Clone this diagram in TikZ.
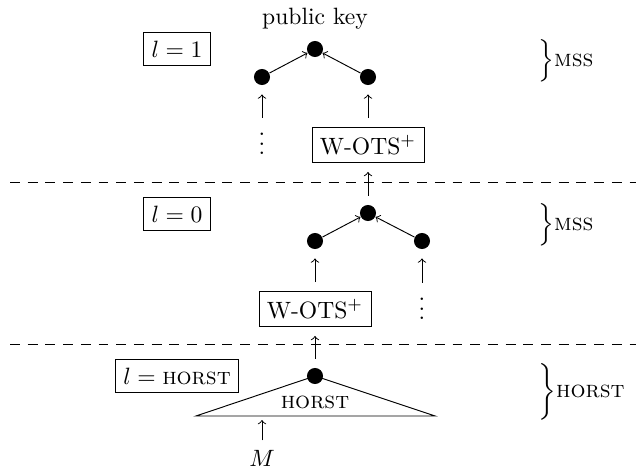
\documentclass[tikz,border=0pt]{standalone}
\begin{document}
\begin{tikzpicture}[x=0.4237pt, y=-0.4237pt,
  dot/.style={circle, fill=black, inner sep=0pt, minimum size=6.8pt},
  lvl/.style={draw, inner sep=3.33pt},
  wbox/.style={draw, inner sep=3.33pt},
  up/.style={->, shorten <=3.8pt, shorten >=3.8pt},
  diag/.style={->},
  sep/.style={dash pattern=on 4.2pt off 3.3pt},
  bracelbl/.style={anchor=west, inner sep=0pt},
  vd/.style={inner sep=0pt}]
\useasboundingbox (0,0) rectangle (636,473);

% ---- level 1
\node (pk) at (315,19) {public key};
\node[dot] (t1) at (315,49) {};
\node[dot] (a1) at (262,77) {};
\node[dot] (b1) at (368,77) {};
\node[lvl] (l1) at (177,49) {$l=1$};
\node[vd] (vd1) at (262,137) {$\vdots$};
\node[wbox] (w1) at (368,145) {W-OTS$^{+}$};
\coordinate (c1) at (262,118);
\draw[diag] (a1) -- (t1);
\draw[diag] (b1) -- (t1);
\draw[->, shorten >=3.8pt] (c1) -- (a1);
\draw[up] (w1) -- (b1);
\node[bracelbl] (m1) at (538,61) {$\Big\}$\textsc{mss}};

\draw[sep] (10,182) -- (636,182);

% ---- level 0
\node[dot] (t0) at (368,213) {};
\node[dot] (a0) at (315,241) {};
\node[dot] (b0) at (422,241) {};
\node[lvl] (l0) at (177,214) {$l=0$};
\node[wbox] (w0) at (315,309) {W-OTS$^{+}$};
\node[vd] (vd0) at (422,302) {$\vdots$};
\coordinate (c0) at (422,283);
\draw[diag] (a0) -- (t0);
\draw[diag] (b0) -- (t0);
\draw[up] (w0) -- (a0);
\draw[->, shorten >=3.8pt] (c0) -- (b0);
\draw[up] (t0) -- (w1);
\node[bracelbl] (m0) at (538,225) {$\Big\}$\textsc{mss}};

\draw[sep] (10,344) -- (636,344);

% ---- HORST level
\node[lvl] (lh) at (177,376) {$l=\textsc{horst}$};
\coordinate (tl) at (196,416);
\coordinate (tr) at (435,416);
\coordinate (mb) at (262,416);
\draw (tl) -- (315,376) -- (tr) -- cycle;
\node[dot] (h) at (315,376) {};
\node (hl) at (315,402) {\textsc{horst}};
\node (msg) at (262,458) {$M$};
\draw[->, shorten <=0.5pt, shorten >=1.7pt] (msg) -- (mb);
\draw[up] (h) -- (w0);
\node[bracelbl] (mh) at (538,392) {$\bigg\}$\textsc{horst}};
\end{tikzpicture}
\end{document}
